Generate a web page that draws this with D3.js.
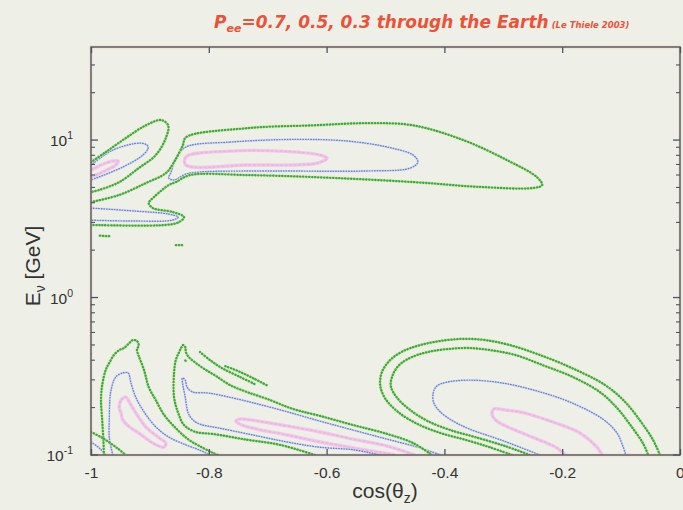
<!DOCTYPE html>
<html><head><meta charset="utf-8">
<script src="https://cdn.jsdelivr.net/npm/d3@7"></script>
<style>html,body{margin:0;padding:0;background:#eef0e8;}svg{display:block;}</style>
</head><body>
<script>
// ---------- data ----------
const xTicks = [-1, -0.8, -0.6, -0.4, -0.2, 0];
const xTickLabels = ["-1", "-0.8", "-0.6", "-0.4", "-0.2", "0"];
const yMajor = [0.1, 1, 10];
const yMajorExp = ["-1", "0", "1"];
const yMinor = [0.2,0.3,0.4,0.5,0.6,0.7,0.8,0.9,2,3,4,5,6,7,8,9,20,30];
const titleMain = "=0.7, 0.5, 0.3 through the Earth";
const titleNote = "(Le Thiele 2003)";

// contour lines: [cos(theta_z), E_nu (GeV)]
// P_ee = 0.3 (green)
const greenLobe = [[-1,7.25],[-0.975,8.39],[-0.941,10.3],[-0.907,12.4],[-0.881,13.4],[-0.869,12.4],[-0.873,10.3],[-0.890,8.03],[-0.919,6.64],[-0.952,5.41],[-0.986,4.82],[-1,4.68]];
const greenBig = [[-1,4.04],[-0.952,4.48],[-0.907,5.33],[-0.873,6.17],[-0.859,7.25],[-0.844,9.29],[-0.839,10.4],[-0.735,11.9],[-0.623,12.4],[-0.531,12.8],[-0.453,12.4],[-0.368,10.0],[-0.294,7.47],[-0.243,5.82],[-0.234,5.18],[-0.250,4.96],[-0.340,5.04],[-0.453,5.41],[-0.623,5.82],[-0.735,5.99],[-0.832,5.99],[-0.856,5.41],[-0.868,5.18],[-0.893,4.35],[-0.902,3.98],[-0.895,3.70],[-0.861,3.49],[-0.842,3.24],[-0.851,3.01],[-0.873,2.89],[-1,2.89]];
const greenBlobA = [[-0.985,2.47],[-0.968,2.45]];
const greenBlobB = [[-0.856,2.15],[-0.845,2.15]];
const greenLeft = [[-0.978,0.100],[-0.979,0.125],[-0.981,0.167],[-0.983,0.223],[-0.981,0.278],[-0.975,0.347],[-0.969,0.384],[-0.961,0.432],[-0.952,0.464],[-0.944,0.478],[-0.935,0.514],[-0.929,0.537],[-0.922,0.530],[-0.919,0.499],[-0.922,0.464],[-0.919,0.426],[-0.910,0.347],[-0.902,0.270],[-0.890,0.223],[-0.876,0.180],[-0.856,0.148],[-0.834,0.125],[-0.810,0.111],[-0.793,0.103],[-0.784,0.100]];
const greenCorner = [[-1,0.140],[-0.980,0.128],[-0.956,0.111],[-0.941,0.100]];
const greenMid = [[-0.620,0.100],[-0.679,0.116],[-0.735,0.125],[-0.793,0.136],[-0.822,0.140],[-0.842,0.155],[-0.852,0.185],[-0.859,0.233],[-0.859,0.332],[-0.856,0.401],[-0.851,0.445],[-0.847,0.478],[-0.844,0.499],[-0.840,0.485],[-0.839,0.451],[-0.834,0.419],[-0.822,0.384],[-0.805,0.347],[-0.788,0.318],[-0.764,0.278],[-0.735,0.251],[-0.701,0.227],[-0.657,0.196],[-0.611,0.177],[-0.555,0.155],[-0.497,0.136],[-0.453,0.119],[-0.421,0.100]];
const greenMidExtraA = [[-0.815,0.451],[-0.798,0.401],[-0.778,0.357],[-0.747,0.313],[-0.722,0.282]];
const greenMidExtraB = [[-0.772,0.367],[-0.747,0.337],[-0.722,0.304],[-0.699,0.274]];
const greenMidBlob = [[-0.840,0.398],[-0.836,0.392]];
const greenArcOuter = [[-0.285,0.100],[-0.323,0.112],[-0.365,0.125],[-0.407,0.138],[-0.445,0.157],[-0.479,0.188],[-0.501,0.230],[-0.509,0.278],[-0.506,0.337],[-0.492,0.401],[-0.470,0.457],[-0.441,0.499],[-0.407,0.530],[-0.370,0.546],[-0.331,0.537],[-0.289,0.499],[-0.238,0.432],[-0.183,0.356],[-0.127,0.278],[-0.093,0.217],[-0.065,0.160],[-0.046,0.125],[-0.034,0.100]];
const greenArcInner = [[-0.255,0.100],[-0.297,0.114],[-0.348,0.130],[-0.390,0.144],[-0.428,0.164],[-0.458,0.193],[-0.480,0.230],[-0.491,0.274],[-0.487,0.327],[-0.475,0.378],[-0.455,0.419],[-0.428,0.451],[-0.394,0.471],[-0.360,0.478],[-0.323,0.464],[-0.280,0.432],[-0.233,0.372],[-0.182,0.313],[-0.136,0.251],[-0.107,0.199],[-0.082,0.151],[-0.063,0.119],[-0.054,0.100]];

// P_ee = 0.5 (blue)
const blueLobe = [[-1,6.94],[-0.963,8.64],[-0.917,9.57],[-0.905,9.29],[-0.903,8.90],[-0.912,8.03],[-0.946,6.74],[-1,5.58]];
const blueBig = [[-0.839,9.03],[-0.764,9.71],[-0.650,10.1],[-0.565,9.86],[-0.497,9.03],[-0.453,8.03],[-0.445,7.25],[-0.458,6.64],[-0.538,6.36],[-0.679,6.36],[-0.815,6.27],[-0.839,6.08],[-0.859,5.58],[-0.868,5.74],[-0.864,6.27],[-0.856,7.69]];
const blueWing = [[-1,3.70],[-0.924,3.54],[-0.868,3.39],[-0.852,3.24],[-0.862,3.10],[-0.924,3.06],[-1,3.10]];
const blueLeft = [[-0.963,0.100],[-0.969,0.130],[-0.969,0.167],[-0.968,0.223],[-0.966,0.259],[-0.958,0.313],[-0.946,0.332],[-0.937,0.332],[-0.932,0.286],[-0.924,0.233],[-0.910,0.188],[-0.890,0.151],[-0.868,0.130],[-0.839,0.116],[-0.817,0.108],[-0.798,0.100]];
const blueCorner = [[-1,0.121],[-0.985,0.110],[-0.975,0.100]];
const blueMid = [[-0.509,0.100],[-0.555,0.108],[-0.611,0.112],[-0.667,0.121],[-0.725,0.134],[-0.781,0.148],[-0.815,0.157],[-0.827,0.167],[-0.835,0.185],[-0.840,0.233],[-0.844,0.278],[-0.845,0.308],[-0.840,0.299],[-0.837,0.270],[-0.827,0.251],[-0.803,0.248],[-0.781,0.240],[-0.730,0.217],[-0.671,0.190],[-0.611,0.164],[-0.555,0.144],[-0.497,0.126],[-0.441,0.111],[-0.407,0.100]];
const blueArc = [[-0.238,0.100],[-0.300,0.123],[-0.357,0.146],[-0.385,0.164],[-0.407,0.188],[-0.418,0.214],[-0.419,0.248],[-0.413,0.274],[-0.396,0.290],[-0.357,0.299],[-0.300,0.286],[-0.243,0.255],[-0.187,0.217],[-0.131,0.169],[-0.107,0.138],[-0.097,0.114],[-0.092,0.100]];

// P_ee = 0.7 (pink)
const pinkLobe = [[-1,6.45],[-0.975,7.15],[-0.954,7.36],[-0.958,6.94],[-0.980,6.27],[-1,5.82]];
const pinkBig = [[-0.839,7.80],[-0.764,8.51],[-0.650,8.39],[-0.611,8.03],[-0.599,7.69],[-0.615,7.15],[-0.735,6.94],[-0.839,6.94]];
const pinkLeft = [[-0.952,0.199],[-0.949,0.223],[-0.941,0.233],[-0.935,0.217],[-0.924,0.185],[-0.907,0.151],[-0.886,0.130],[-0.873,0.119],[-0.876,0.112],[-0.895,0.119],[-0.919,0.138],[-0.935,0.151],[-0.946,0.167],[-0.949,0.185]];
const pinkMid = [[-0.484,0.100],[-0.555,0.111],[-0.611,0.121],[-0.667,0.134],[-0.725,0.148],[-0.747,0.157],[-0.754,0.164],[-0.747,0.169],[-0.730,0.167],[-0.667,0.153],[-0.611,0.140],[-0.555,0.126],[-0.497,0.114],[-0.450,0.100]];
const pinkArc = [[-0.195,0.100],[-0.209,0.111],[-0.226,0.119],[-0.272,0.140],[-0.311,0.164],[-0.319,0.180],[-0.316,0.196],[-0.297,0.193],[-0.272,0.188],[-0.216,0.162],[-0.170,0.138],[-0.141,0.112],[-0.132,0.100]];

const contours = [
  {level:"0.7", pts:pinkLobe}, {level:"0.7", pts:pinkBig, closed:true}, {level:"0.7", pts:pinkLeft, closed:true},
  {level:"0.7", pts:pinkMid}, {level:"0.7", pts:pinkArc},
  {level:"0.5", pts:blueLobe}, {level:"0.5", pts:blueBig, closed:true}, {level:"0.5", pts:blueWing},
  {level:"0.5", pts:blueLeft}, {level:"0.5", pts:blueCorner}, {level:"0.5", pts:blueMid}, {level:"0.5", pts:blueArc},
  {level:"0.3", pts:greenLobe}, {level:"0.3", pts:greenBig}, {level:"0.3", pts:greenBlobA}, {level:"0.3", pts:greenBlobB},
  {level:"0.3", pts:greenLeft}, {level:"0.3", pts:greenCorner}, {level:"0.3", pts:greenMid},
  {level:"0.3", pts:greenMidExtraA}, {level:"0.3", pts:greenMidExtraB}, {level:"0.3", pts:greenMidBlob},
  {level:"0.3", pts:greenArcOuter}, {level:"0.3", pts:greenArcInner}
];

// ---------- drawing ----------
const W = 683, H = 510;
const plot = {left: 91, right: 680, top: 47, bottom: 455};
const svg = d3.select("body").append("svg").attr("width", W).attr("height", H);
svg.append("rect").attr("width", W).attr("height", H).attr("fill", "#eef0e8");

const x = d3.scaleLinear().domain([-1, 0]).range([plot.left, plot.right]);
const y = d3.scaleLog().domain([0.1, 39]).range([plot.bottom, plot.top]);

svg.append("clipPath").attr("id", "clip").append("rect")
  .attr("x", plot.left).attr("y", plot.top)
  .attr("width", plot.right - plot.left).attr("height", plot.bottom - plot.top);

const gC = svg.append("g").attr("clip-path", "url(#clip)");
const lineOpen = d3.line().x(d => x(d[0])).y(d => y(d[1])).curve(d3.curveCatmullRom.alpha(0.5));
const lineClosed = d3.line().x(d => x(d[0])).y(d => y(d[1])).curve(d3.curveCatmullRomClosed.alpha(0.5));

const styles = {
  "0.7": [{stroke:"#f2c2ea", w:3.4, op:0.9}, {stroke:"#e9a6dd", w:1.5, op:0.6, dash:"3 1.5"}],
  "0.5": [{stroke:"#dfcdee", w:2.4, op:0.55}, {stroke:"#5d88d8", w:1.4, dash:"0.6 2", cap:"round"}],
  "0.3": [{stroke:"#e4ea86", w:3.4, op:0.6}, {stroke:"#34a852", w:2.3, dash:"0.4 2.6", cap:"round"}]
};
["0.7","0.5","0.3"].forEach(lev => {
  contours.filter(c => c.level === lev).forEach(c => {
    styles[lev].forEach(s => {
      gC.append("path")
        .attr("d", (c.closed ? lineClosed : lineOpen)(c.pts))
        .attr("fill", "none")
        .attr("stroke", s.stroke)
        .attr("stroke-width", s.w)
        .attr("stroke-opacity", s.op || 1)
        .attr("stroke-dasharray", s.dash || null)
        .attr("stroke-linecap", s.cap || "butt")
        .attr("stroke-linejoin", "round");
    });
  });
});

// frame
svg.append("rect").attr("x", plot.left).attr("y", plot.top)
  .attr("width", plot.right - plot.left).attr("height", plot.bottom - plot.top)
  .attr("fill", "none").attr("stroke", "#e8a890").attr("stroke-width", 2.6).attr("stroke-opacity", 0.5);
svg.append("rect").attr("x", plot.left).attr("y", plot.top)
  .attr("width", plot.right - plot.left).attr("height", plot.bottom - plot.top)
  .attr("fill", "none").attr("stroke", "#4b5560").attr("stroke-width", 1.3);

const font = "'Liberation Sans', Arial, Helvetica, sans-serif";
const tickColor = "#4b5560";

// x axes (bottom with labels, top mirrored)
const xAxisB = d3.axisBottom(x).tickValues(xTicks).tickSize(-6).tickPadding(12)
  .tickFormat((d, i) => xTickLabels[i]);
const gxb = svg.append("g").attr("transform", `translate(0,${plot.bottom})`).call(xAxisB);
gxb.select(".domain").remove();
gxb.selectAll("line").attr("stroke", tickColor).attr("stroke-width", 1.3);
gxb.selectAll("text").attr("font-family", font).attr("font-size", 15.5).attr("fill", "#333");
gxb.selectAll("text").filter(d => d === 0).attr("text-anchor", "end").attr("dx", 4);

const gxt = svg.append("g").attr("transform", `translate(0,${plot.top})`)
  .call(d3.axisTop(x).tickValues(xTicks).tickSize(-6).tickFormat(""));
gxt.select(".domain").remove();
gxt.selectAll("line").attr("stroke", tickColor).attr("stroke-width", 1.3);

// y axes
function yAxisTicks(side) {
  const sign = side === "left" ? 1 : -1;
  const xpos = side === "left" ? plot.left : plot.right;
  const gy = svg.append("g");
  gy.selectAll("line.maj").data(yMajor).join("line")
    .attr("x1", xpos).attr("x2", xpos + sign * 7)
    .attr("y1", d => y(d)).attr("y2", d => y(d))
    .attr("stroke", tickColor).attr("stroke-width", 1.3);
  gy.selectAll("line.min").data(yMinor).join("line")
    .attr("x1", xpos).attr("x2", xpos + sign * 4)
    .attr("y1", d => y(d)).attr("y2", d => y(d))
    .attr("stroke", tickColor).attr("stroke-width", 1.1);
}
yAxisTicks("left");
yAxisTicks("right");

const yl = svg.append("g");
yMajor.forEach((v, i) => {
  const t = yl.append("text").attr("x", 73).attr("y", y(v) + 6)
    .attr("text-anchor", "end").attr("font-family", font).attr("font-size", 15.5).attr("fill", "#333");
  t.append("tspan").text("10");
  t.append("tspan").attr("font-size", 10.5).attr("dy", -7).text(yMajorExp[i]);
});

// axis titles
const xt = svg.append("text").attr("x", 385).attr("y", 498).attr("text-anchor", "middle")
  .attr("font-family", font).attr("font-size", 21).attr("fill", "#333");
xt.append("tspan").text("cos(\u03B8");
xt.append("tspan").attr("font-size", 14).attr("dy", 5).text("z");
xt.append("tspan").attr("dy", -5).text(")");

const yt = svg.append("text").attr("transform", "translate(40,266) rotate(-90)").attr("text-anchor", "middle")
  .attr("font-family", font).attr("font-size", 21).attr("fill", "#333");
yt.append("tspan").text("E");
yt.append("tspan").attr("font-size", 14).attr("dy", 5).text("\u03BD");
yt.append("tspan").attr("dy", -5).text(" [GeV]");

// title
const tt = svg.append("text").attr("x", 214).attr("y", 28)
  .attr("font-family", "'DejaVu Sans', sans-serif").attr("font-style", "italic").attr("font-weight", "bold")
  .attr("font-size", 17).attr("fill", "#ec5238");
tt.append("tspan").text("P");
tt.append("tspan").attr("font-size", 11).attr("dy", 4).text("ee");
tt.append("tspan").attr("dy", -4).text(titleMain);
tt.append("tspan").attr("font-size", 8.5).attr("dx", 3).attr("font-weight", "bold").text(titleNote);
</script>
</body></html>
